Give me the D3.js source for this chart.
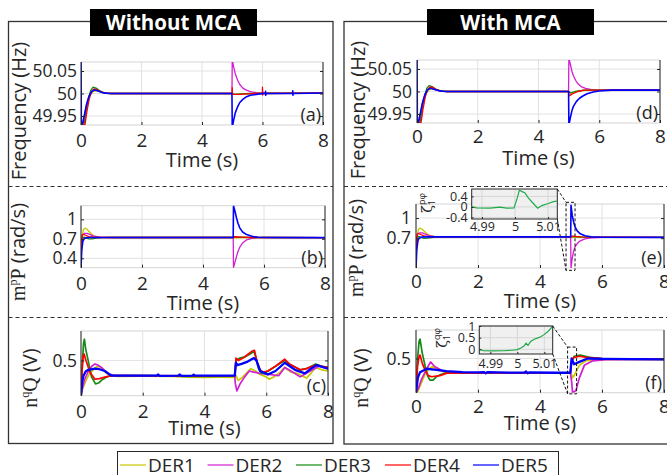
<!DOCTYPE html>
<html><head><meta charset="utf-8">
<script src="https://cdn.jsdelivr.net/npm/d3@7"></script>
<style>
body{margin:0;background:#fff}
svg{display:block}
text{font-family:"Open Sans",sans-serif;fill:#262626}
</style>
</head><body>
<svg id="c" width="667" height="475"></svg>
<script>
// ---------------- DATA ----------------
const seriesNames = ['DER1','DER2','DER3','DER4','DER5'];
const timeTicks = [0,2,4,6,8];
const freqTicks = [49.95,50,50.05];
const mpTicksB = [0.4,0.7,1];
const mpTicksE = [0.7,1];
const nqTicks = [0.5];
const insetTimeTicks = [4.99,5,5.01];
const insetTicksE = [-0.4,0,0.4];
const insetTicksF = [0,0.5,1];
const panelTags = ['(a)','(b)','(c)','(d)','(e)','(f)'];
const columnTitles = ['Without MCA','With MCA'];

// (a) Frequency without MCA
const freqNo_DER1 = [[0,49.93],[0.09,49.93],[0.15,49.955],[0.22,49.98],[0.3,49.996],[0.4,50.004],[0.5,50.006],[0.62,50.004],[0.8,50.001],[1,50],[5,50],[5.02,49.998],[5.3,49.999],[5.6,50],[6,50.001],[8,50.001]];
const freqNo_DER2 = [[0,49.93],[0.07,49.935],[0.14,49.96],[0.22,49.985],[0.3,50.0],[0.4,50.008],[0.5,50.008],[0.65,50.003],[0.85,50.001],[1,50],[4.99,50],[5,50.075],[5.05,50.058],[5.1,50.044],[5.18,50.029],[5.25,50.02],[5.35,50.012],[5.45,50.008],[5.6,50.004],[5.8,50.002],[5.995,50.001],[6,49.997],[6.01,50.004],[6.03,50.001],[8,50.001]];
const freqNo_DER3 = [[0,49.93],[0.1,49.932],[0.17,49.96],[0.25,49.99],[0.32,50.007],[0.4,50.014],[0.5,50.012],[0.6,50.007],[0.75,50.002],[1,50],[5,50],[5.05,49.998],[5.3,49.999],[5.6,50],[8,50.001]];
const freqNo_DER4 = [[0,49.93],[0.13,49.93],[0.2,49.962],[0.28,49.99],[0.35,50.004],[0.43,50.01],[0.52,50.009],[0.62,50.005],[0.8,50.001],[1,50],[4.995,50],[5,50.013],[5.005,50],[5.03,49.998],[5.25,49.998],[5.5,49.999],[5.8,50],[5.995,50],[6,50.014],[6.005,49.997],[6.03,50],[8,50.001]];
const freqNo_DER5 = [[0,50.075],[0.012,49.93],[0.06,49.935],[0.1,49.948],[0.18,49.975],[0.26,49.993],[0.35,50.004],[0.45,50.008],[0.55,50.006],[0.7,50.002],[0.9,50],[4.99,50],[5,49.925],[5.05,49.942],[5.1,49.957],[5.18,49.971],[5.25,49.98],[5.35,49.987],[5.45,49.992],[5.6,49.996],[5.8,49.998],[6,50],[6.095,50],[6.1,50.005],[6.105,49.996],[6.12,50],[6.995,50],[7,50.006],[7.005,49.996],[7.02,50],[8,50.001]];

// (d) Frequency with MCA
const freqMCA_DER1 = [[0,49.93],[0.09,49.93],[0.15,49.955],[0.22,49.98],[0.3,49.996],[0.4,50.004],[0.5,50.006],[0.62,50.004],[0.8,50.001],[1,50],[5,50],[5.05,49.995],[5.2,49.999],[5.4,50.002],[5.7,50.003],[8,50.003]];
const freqMCA_DER2 = [[0,49.93],[0.07,49.935],[0.14,49.96],[0.22,49.985],[0.3,50.0],[0.4,50.008],[0.5,50.008],[0.65,50.003],[0.85,50.001],[1,50],[4.99,50],[5,50.075],[5.05,50.06],[5.1,50.045],[5.15,50.035],[5.22,50.025],[5.3,50.017],[5.4,50.011],[5.55,50.007],[5.75,50.004],[6,50.003],[8,50.003]];
const freqMCA_DER3 = [[0,49.93],[0.1,49.932],[0.17,49.96],[0.25,49.99],[0.32,50.007],[0.4,50.013],[0.5,50.011],[0.6,50.006],[0.75,50.002],[1,50],[5,50],[5.05,49.997],[5.2,50],[5.5,50.003],[8,50.003]];
const freqMCA_DER4 = [[0,49.93],[0.13,49.93],[0.2,49.962],[0.28,49.99],[0.35,50.004],[0.43,50.01],[0.52,50.009],[0.62,50.005],[0.8,50.001],[1,50],[4.995,50],[5,49.99],[5.05,49.992],[5.15,49.996],[5.3,50.0],[5.5,50.003],[8,50.003]];
const freqMCA_DER5 = [[0,50.075],[0.012,49.93],[0.06,49.935],[0.1,49.948],[0.18,49.975],[0.26,49.993],[0.35,50.004],[0.45,50.007],[0.55,50.005],[0.7,50.002],[0.9,50],[4.99,50],[5,49.925],[5.05,49.942],[5.1,49.957],[5.15,49.967],[5.25,49.978],[5.35,49.985],[5.46,49.99],[5.6,49.995],[5.8,49.999],[6,50.001],[6.4,50.003],[8,50.003]];

// (b) m^pP without MCA
const mpNo_DER1 = [[0,0.255],[0.015,0.55],[0.04,0.75],[0.08,0.84],[0.13,0.865],[0.18,0.855],[0.25,0.82],[0.35,0.77],[0.45,0.74],[0.6,0.725],[1,0.72],[5,0.72],[5.05,0.714],[5.3,0.717],[6,0.72],[8,0.719]];
const mpNo_DER2 = [[0,0.255],[0.015,0.6],[0.05,0.76],[0.12,0.785],[0.2,0.785],[0.3,0.765],[0.42,0.74],[0.6,0.725],[1,0.72],[4.99,0.72],[5,0.255],[5.05,0.34],[5.1,0.43],[5.15,0.51],[5.21,0.575],[5.3,0.635],[5.43,0.685],[5.6,0.708],[5.8,0.717],[6.2,0.72],[8,0.718]];
const mpNo_DER3 = [[0,0.255],[0.015,0.58],[0.05,0.72],[0.1,0.725],[0.18,0.71],[0.26,0.698],[0.36,0.7],[0.5,0.71],[0.7,0.718],[1,0.72],[5,0.72],[5.05,0.726],[5.5,0.72],[8,0.718]];
const mpNo_DER4 = [[0,0.255],[0.015,0.65],[0.04,0.76],[0.08,0.77],[0.15,0.755],[0.25,0.735],[0.4,0.724],[0.6,0.72],[5,0.72],[5.02,0.732],[5.3,0.726],[5.6,0.72],[8,0.718]];
const mpNo_DER5 = [[0,0.255],[0.025,0.52],[0.06,0.66],[0.1,0.7],[0.16,0.715],[0.25,0.72],[4.99,0.72],[5,1.21],[5.05,1.12],[5.1,1.02],[5.15,0.935],[5.21,0.865],[5.3,0.805],[5.43,0.765],[5.6,0.738],[5.8,0.724],[6.2,0.72],[8,0.718]];

// (e) m^pP with MCA
const mpMCA_DER1 = [[0,0.255],[0.015,0.55],[0.04,0.75],[0.08,0.83],[0.12,0.85],[0.18,0.84],[0.25,0.81],[0.35,0.765],[0.45,0.74],[0.6,0.725],[1,0.72],[5,0.72],[5.05,0.712],[5.3,0.712],[8,0.712]];
const mpMCA_DER2 = [[0,0.255],[0.015,0.6],[0.05,0.76],[0.12,0.78],[0.2,0.78],[0.3,0.76],[0.42,0.738],[0.6,0.724],[1,0.72],[4.99,0.72],[5,0.255],[5.04,0.4],[5.08,0.5],[5.13,0.57],[5.2,0.62],[5.3,0.66],[5.45,0.69],[5.65,0.705],[6,0.712],[8,0.712]];
const mpMCA_DER3 = [[0,0.255],[0.015,0.58],[0.05,0.72],[0.1,0.725],[0.18,0.71],[0.26,0.698],[0.36,0.7],[0.5,0.71],[0.7,0.718],[1,0.72],[5,0.72],[5.05,0.726],[5.4,0.715],[8,0.712]];
const mpMCA_DER4 = [[0,0.255],[0.015,0.65],[0.04,0.76],[0.08,0.77],[0.15,0.755],[0.25,0.735],[0.4,0.724],[0.6,0.72],[5,0.72],[5.02,0.73],[5.3,0.718],[8,0.712]];
const mpMCA_DER5 = [[0,0.255],[0.025,0.52],[0.06,0.66],[0.1,0.7],[0.16,0.715],[0.25,0.72],[4.99,0.72],[5,1.19],[5.04,1.04],[5.08,0.95],[5.13,0.87],[5.2,0.81],[5.3,0.765],[5.45,0.735],[5.65,0.72],[6,0.714],[8,0.712]];

// (c) n^qQ without MCA
const nqNo_DER1 = [[0,0.2],[0.04,0.25],[0.1,0.29],[0.18,0.34],[0.28,0.39],[0.4,0.42],[0.5,0.445],[0.6,0.45],[0.7,0.43],[0.82,0.39],[0.95,0.37],[1.2,0.365],[2,0.366],[3,0.364],[3.5,0.358],[4,0.356],[4.5,0.357],[4.98,0.356],[5.02,0.372],[5.09,0.33],[5.2,0.35],[5.35,0.39],[5.5,0.43],[5.65,0.41],[5.8,0.38],[6.0,0.36],[6.1,0.34],[6.25,0.36],[6.45,0.4],[6.6,0.44],[6.8,0.4],[7.0,0.39],[7.15,0.37],[7.3,0.35],[7.45,0.39],[7.6,0.44],[7.8,0.42],[8,0.41]];
const nqNo_DER2 = [[0,0.2],[0.05,0.27],[0.12,0.34],[0.24,0.41],[0.35,0.45],[0.45,0.47],[0.55,0.46],[0.66,0.44],[0.78,0.41],[0.9,0.385],[1.1,0.37],[2,0.368],[3.5,0.366],[4.98,0.366],[5.0,0.3],[5.05,0.24],[5.15,0.3],[5.3,0.36],[5.45,0.41],[5.6,0.4],[5.8,0.39],[6.1,0.38],[6.4,0.37],[6.6,0.44],[6.8,0.41],[7.1,0.36],[7.3,0.39],[7.5,0.42],[7.7,0.45],[8,0.43]];
const nqNo_DER3 = [[0,0.2],[0.04,0.45],[0.08,0.64],[0.11,0.68],[0.15,0.6],[0.24,0.49],[0.34,0.36],[0.47,0.3],[0.58,0.31],[0.66,0.33],[0.8,0.355],[0.95,0.37],[2,0.37],[3.5,0.365],[4.98,0.366],[5.02,0.5],[5.15,0.52],[5.3,0.53],[5.45,0.55],[5.6,0.575],[5.68,0.51],[5.75,0.43],[5.85,0.39],[6.0,0.4],[6.3,0.45],[6.6,0.5],[6.8,0.46],[7.1,0.42],[7.3,0.43],[7.6,0.47],[7.8,0.45],[8,0.44]];
const nqNo_DER4 = [[0,0.2],[0.03,0.4],[0.07,0.53],[0.1,0.555],[0.16,0.5],[0.29,0.4],[0.45,0.34],[0.6,0.345],[0.8,0.36],[1,0.37],[2,0.37],[3.5,0.368],[4.98,0.37],[5.02,0.52],[5.1,0.5],[5.25,0.52],[5.4,0.55],[5.55,0.58],[5.62,0.585],[5.7,0.49],[5.8,0.42],[5.9,0.4],[6.05,0.41],[6.3,0.45],[6.6,0.51],[6.75,0.47],[7.1,0.42],[7.3,0.43],[7.6,0.46],[7.8,0.45],[8,0.44]];
const nqNo_DER5 = [[0,0.2],[0.04,0.32],[0.08,0.37],[0.15,0.405],[0.24,0.42],[0.45,0.43],[0.6,0.425],[0.77,0.41],[0.9,0.385],[1,0.37],[1.5,0.37],[2.45,0.37],[2.5,0.38],[2.55,0.368],[3.15,0.37],[3.2,0.38],[3.25,0.368],[3.6,0.37],[3.65,0.379],[3.7,0.37],[4.98,0.37],[5.02,0.48],[5.06,0.46],[5.2,0.47],[5.4,0.49],[5.6,0.52],[5.68,0.5],[5.8,0.41],[6.05,0.38],[6.3,0.41],[6.6,0.48],[6.93,0.42],[7.25,0.39],[7.45,0.43],[7.63,0.46],[8,0.43]];

// (f) n^qQ with MCA
const nqMCA_DER1 = [[0,0.2],[0.04,0.2],[0.18,0.29],[0.3,0.37],[0.39,0.4],[0.53,0.43],[0.71,0.4],[0.98,0.375],[2,0.373],[3,0.372],[4,0.372],[4.98,0.372],[5.02,0.36],[5.05,0.33],[5.1,0.35],[5.27,0.44],[5.48,0.48],[5.8,0.49],[6.5,0.492],[8,0.49]];
const nqMCA_DER2 = [[0,0.2],[0.08,0.24],[0.18,0.32],[0.35,0.41],[0.47,0.47],[0.6,0.43],[0.87,0.39],[1.1,0.376],[2,0.374],[4.98,0.374],[5.02,0.3],[5.05,0.2],[5.16,0.22],[5.27,0.33],[5.43,0.44],[5.7,0.48],[6.13,0.49],[8,0.492]];
const nqMCA_DER3 = [[0,0.2],[0.05,0.5],[0.1,0.65],[0.13,0.67],[0.2,0.55],[0.29,0.44],[0.37,0.35],[0.45,0.31],[0.55,0.31],[0.66,0.34],[0.8,0.36],[0.98,0.375],[2,0.375],[4.98,0.375],[5.02,0.47],[5.1,0.52],[5.3,0.53],[5.6,0.51],[6,0.5],[6.5,0.495],[8,0.495]];
const nqMCA_DER4 = [[0,0.2],[0.05,0.43],[0.1,0.52],[0.13,0.53],[0.2,0.46],[0.29,0.4],[0.4,0.35],[0.5,0.34],[0.77,0.35],[1,0.372],[2,0.373],[4.98,0.373],[5.02,0.48],[5.1,0.51],[5.27,0.52],[5.5,0.51],[6,0.5],[8,0.495]];
const nqMCA_DER5 = [[0,0.2],[0.06,0.33],[0.13,0.38],[0.35,0.41],[0.66,0.4],[0.98,0.39],[1.5,0.38],[2,0.378],[2.2,0.38],[2.25,0.37],[2.3,0.38],[3,0.376],[3.5,0.377],[3.55,0.386],[3.6,0.37],[3.65,0.378],[4.5,0.375],[4.98,0.375],[5.02,0.5],[5.1,0.45],[5.27,0.47],[5.54,0.5],[6,0.497],[7,0.495],[8,0.493]];

// insets (zeta_1 around t = 5 s)
const insetE_zeta = [[4.98706,0.0],[4.98839,-0.04],[4.99242,-0.05],[4.99545,-0.01],[4.99748,-0.05],[4.9997,-0.04],[5.0007,0.34],[5.0013,0.63],[5.00203,0.59],[5.00303,0.53],[5.00403,0.34],[5.00555,0.13],[5.00688,-0.05],[5.00809,0.05],[5.01009,0.13],[5.01161,0.2],[5.01264,0.22]];
const insetF_zeta = [[4.98619,0.0],[4.98741,-0.06],[4.99111,-0.07],[4.99481,-0.06],[4.99793,-0.04],[5.0,-0.01],[5.00126,0.06],[5.00248,0.14],[5.00322,0.26],[5.00396,0.17],[5.00496,0.34],[5.00619,0.43],[5.00741,0.48],[5.00867,0.54],[5.00989,0.63],[5.01111,0.74],[5.01211,0.86],[5.01296,0.97]];
// zoom-window markers [t0, t1, v0, v1]
const markerE = [4.84,5.13,0.22,1.235];
const markerF = [4.89,5.18,0.19,0.6];

// ---------------- DRAWING ----------------
const colors = ['#c8c800','#d21fd2','#138a13','#ff0000','#0000ff'];
const svg = d3.select('#c');
let clipId = 0;

function axisLabel(g, x, y, parts){
  const t = g.append('text').attr('transform',`translate(${x},${y}) rotate(-90)`)
    .attr('text-anchor','middle').attr('font-size',20);
  let shift = 0;
  parts.forEach(p=>{
    const s = t.append('tspan').text(p.t);
    if(p.serif) s.style('font-family','"Liberation Serif",serif');
    if(p.sup){ s.attr('font-size',12).attr('dy',-8); shift = 8; }
    else if(shift){ s.attr('dy',shift); shift = 0; }
  });
}

function panel(o){
  const x = d3.scaleLinear().domain([0,8]).range([o.x0,o.x1]);
  const y = d3.scaleLinear().domain(o.yDom).range([o.y1,o.y0]);
  const g = svg.append('g');
  g.selectAll('.gx').data(timeTicks).join('line')
    .attr('x1',d=>x(d)).attr('x2',d=>x(d)).attr('y1',o.y0).attr('y2',o.y1)
    .attr('stroke','#e2e2e2').attr('stroke-width',1);
  g.selectAll('.gy').data(o.yTicks).join('line')
    .attr('x1',o.x0).attr('x2',o.x1).attr('y1',d=>y(d)).attr('y2',d=>y(d))
    .attr('stroke','#e2e2e2').attr('stroke-width',1);
  [o.y0,o.y1].forEach(v=>g.append('line').attr('x1',o.x0).attr('x2',o.x1).attr('y1',v).attr('y2',v)
    .attr('stroke','#d4d4d4').attr('stroke-width',1));
  const id = 'clip'+(clipId++);
  svg.append('defs').append('clipPath').attr('id',id).append('rect')
    .attr('x',o.x0).attr('y',o.y0).attr('width',o.x1-o.x0).attr('height',o.y1-o.y0);
  const line = d3.line().x(d=>x(d[0])).y(d=>y(d[1]));
  g.append('g').attr('clip-path',`url(#${id})`).selectAll('path').data(o.series).join('path')
    .attr('d',line).attr('fill','none').attr('stroke',(d,i)=>colors[i])
    .attr('stroke-width',(d,i)=>o.thick ? (i===4?2.3:1.7) : (i===4?1.6:1.3))
    .attr('stroke-linejoin','round');
  const ax = g.append('g').attr('transform',`translate(0,${o.y1})`)
    .call(d3.axisBottom(x).tickValues(timeTicks).tickSizeInner(-3).tickSizeOuter(0).tickPadding(o.xPad).tickFormat(d3.format('d')));
  ax.select('.domain').remove();
  ax.attr('font-size',19).attr('font-family','"Open Sans",sans-serif').attr('color','#262626');
  const ay = g.append('g').attr('transform',`translate(${o.x0},0)`)
    .call(d3.axisLeft(y).tickValues(o.yTicks).tickSizeInner(-3).tickSizeOuter(0).tickPadding(o.yPad).tickFormat(d=>String(+d.toFixed(3))));
  ay.select('.domain').remove();
  ay.attr('font-size',17.5).attr('font-family','"Open Sans",sans-serif').attr('color','#262626');
  const ar = g.append('g').attr('transform',`translate(${o.x1},0)`)
    .call(d3.axisRight(y).tickValues(o.yTicks).tickSizeInner(-3).tickSizeOuter(0).tickFormat(''));
  ar.select('.domain').remove();
  ar.attr('color','#262626');
  [o.x0,o.x1].forEach(v=>g.append('line').attr('x1',v).attr('x2',v).attr('y1',o.y0).attr('y2',o.y1)
    .attr('stroke','#262626').attr('stroke-width',1));
  g.append('text').attr('x',(o.x0+o.x1)/2).attr('y',o.y1+o.timeDy).attr('text-anchor','middle')
    .attr('font-size',20).text('Time (s)');
  g.append('text').attr('x',o.x1-2).attr('y',o.y1-4).attr('text-anchor','end')
    .attr('font-size',18).text(o.tag);
  axisLabel(g,o.lx,o.ly,o.label);
  return {x,y};
}

function inset(o){
  const x = d3.scaleLinear().domain(o.xDom).range([o.x0,o.x1]);
  const y = d3.scaleLinear().domain(o.yDom).range([o.y1,o.y0]);
  const g = svg.append('g');
  g.append('rect').attr('x',o.x0).attr('y',o.y0).attr('width',o.x1-o.x0).attr('height',o.y1-o.y0)
    .attr('fill','#f0f0f0');
  g.selectAll('.gx').data(insetTimeTicks).join('line')
    .attr('x1',d=>x(d)).attr('x2',d=>x(d)).attr('y1',o.y0).attr('y2',o.y1).attr('stroke','#d6d6d6');
  g.selectAll('.gy').data(o.yTicks).join('line')
    .attr('x1',o.x0).attr('x2',o.x1).attr('y1',d=>y(d)).attr('y2',d=>y(d)).attr('stroke','#d6d6d6');
  const id = 'clip'+(clipId++);
  svg.append('defs').append('clipPath').attr('id',id).append('rect')
    .attr('x',o.x0).attr('y',o.y0).attr('width',o.x1-o.x0).attr('height',o.y1-o.y0);
  g.append('path').datum(o.data).attr('clip-path',`url(#${id})`)
    .attr('d',d3.line().x(d=>x(d[0])).y(d=>y(d[1])))
    .attr('fill','none').attr('stroke','#1fab48').attr('stroke-width',1.2);
  const ax = g.append('g').attr('transform',`translate(0,${o.y1})`)
    .call(d3.axisBottom(x).tickValues(insetTimeTicks).tickSizeInner(-2).tickSizeOuter(0).tickPadding(o.xPad).tickFormat(d=>String(+d.toFixed(2))));
  ax.select('.domain').remove();
  ax.attr('font-size',12.5).attr('font-family','"Open Sans",sans-serif').attr('color','#262626');
  const ay = g.append('g').attr('transform',`translate(${o.x0},0)`)
    .call(d3.axisLeft(y).tickValues(o.yTicks).tickSizeInner(-2).tickSizeOuter(0).tickPadding(4).tickFormat(d=>String(+d.toFixed(2))));
  ay.select('.domain').remove();
  ay.attr('font-size',12.5).attr('font-family','"Open Sans",sans-serif').attr('color','#262626');
  g.append('rect').attr('x',o.x0).attr('y',o.y0).attr('width',o.x1-o.x0).attr('height',o.y1-o.y0)
    .attr('fill','none').attr('stroke','#262626').attr('stroke-width',1);
  const t = g.append('text').attr('transform',`translate(${o.lx},${o.ly}) rotate(-90)`)
    .attr('text-anchor','middle').attr('font-size',14);
  t.append('tspan').text('ζ').style('font-family','"DejaVu Serif",serif');
  t.append('tspan').text('1').attr('font-size',9).attr('dy',3);
  t.append('tspan').text(o.sup).attr('font-size',9).attr('dx',-5).attr('dy',-10);
  return {x,y};
}

function marker(sc, m, box){
  const g = svg.append('g').attr('fill','none').attr('stroke','#111').attr('stroke-width',1).attr('stroke-dasharray','3,2');
  const rx0 = sc.x(m[0]), rx1 = sc.x(m[1]), ry0 = sc.y(m[3]), ry1 = sc.y(m[2]);
  g.append('rect').attr('x',rx0).attr('y',ry0).attr('width',rx1-rx0).attr('height',ry1-ry0);
  g.append('line').attr('x1',box.x1).attr('y1',box.y0).attr('x2',rx0).attr('y2',ry0);
  g.append('line').attr('x1',box.x1).attr('y1',box.y1).attr('x2',rx0).attr('y2',ry1);
}

svg.append('rect').attr('x',8.5).attr('y',21.5).attr('width',324.5).attr('height',422)
  .attr('fill','none').attr('stroke','#333').attr('stroke-width',1.3);
svg.append('rect').attr('x',344).attr('y',21.5).attr('width',400).attr('height',422.5)
  .attr('fill','none').attr('stroke','#333').attr('stroke-width',1.3);
[[8.5,333,186.5],[8.5,333,317.5],[344,667,186.5],[344,667,317.5]].forEach(d=>
  svg.append('line').attr('x1',d[0]).attr('x2',d[1]).attr('y1',d[2]).attr('y2',d[2])
    .attr('stroke','#333').attr('stroke-width',1).attr('stroke-dasharray','4,3'));

[[90,9,167,27,0],[427,9,167,26,1]].forEach(d=>{
  svg.append('rect').attr('x',d[0]).attr('y',d[1]).attr('width',d[2]).attr('height',d[3]).attr('fill','#000');
  svg.append('text').attr('x',d[0]+d[2]/2).attr('y',d[1]+21).attr('text-anchor','middle')
    .attr('font-size',20.5).attr('font-weight',700).style('fill','#fff').text(columnTitles[d[4]]);
});

const lblFreq = [{t:'Frequency (Hz)'}];
const lblMP = [{t:'m',serif:1},{t:'p',serif:1,sup:1},{t:'P',serif:1},{t:' (rad/s)'}];
const lblNQ = [{t:'n',serif:1},{t:'q',serif:1,sup:1},{t:'Q',serif:1},{t:' (V)'}];

panel({x0:81,x1:323,y0:62,y1:125,yDom:[49.93,50.07],yTicks:freqTicks,series:[freqNo_DER1,freqNo_DER2,freqNo_DER3,freqNo_DER4,freqNo_DER5],
  xPad:8.5,yPad:4,timeDy:42,tag:panelTags[0],lx:26,ly:111,label:lblFreq});
panel({x0:81,x1:325,y0:205.7,y1:267.7,yDom:[0.255,1.21],yTicks:mpTicksB,series:[mpNo_DER1,mpNo_DER2,mpNo_DER3,mpNo_DER4,mpNo_DER5],
  xPad:8.5,yPad:4,timeDy:42,tag:panelTags[1],lx:25,ly:252,label:lblMP});
panel({x0:81,x1:328,y0:331,y1:395.7,yDom:[0.2,0.75],yTicks:nqTicks,series:[nqNo_DER1,nqNo_DER2,nqNo_DER3,nqNo_DER4,nqNo_DER5],thick:1,
  xPad:8.5,yPad:4,timeDy:39,tag:panelTags[2],lx:37,ly:378,label:lblNQ});
panel({x0:417,x1:660,y0:60,y1:123,yDom:[49.93,50.07],yTicks:freqTicks,series:[freqMCA_DER1,freqMCA_DER2,freqMCA_DER3,freqMCA_DER4,freqMCA_DER5],
  xPad:6.5,yPad:5,timeDy:42,tag:panelTags[3],lx:365,ly:110,label:lblFreq});
const scE = panel({x0:416,x1:664,y0:204,y1:268,yDom:[0.255,1.21],yTicks:mpTicksE,series:[mpMCA_DER1,mpMCA_DER2,mpMCA_DER3,mpMCA_DER4,mpMCA_DER5],
  xPad:6.5,yPad:5,timeDy:40,tag:panelTags[4],lx:363,ly:248,label:lblMP});
const scF = panel({x0:416,x1:664,y0:330,y1:392.7,yDom:[0.2,0.75],yTicks:nqTicks,series:[nqMCA_DER1,nqMCA_DER2,nqMCA_DER3,nqMCA_DER4,nqMCA_DER5],thick:1,
  xPad:6.5,yPad:5,timeDy:37,tag:panelTags[5],lx:368,ly:378,label:lblNQ});

const boxE = {x0:471.7,x1:557.3,y0:189,y1:219};
const boxF = {x0:479.3,x1:552.7,y0:326,y1:354};
inset({...boxE,xDom:[4.9869,5.0128],yDom:[-0.46,0.68],yTicks:insetTicksE,data:insetE_zeta,xPad:3,lx:432,ly:203,sup:'pφ'});
inset({...boxF,xDom:[4.9859,5.0131],yDom:[-0.2,1],yTicks:insetTicksF,data:insetF_zeta,xPad:5,lx:447,ly:338,sup:'qφ'});
marker(scE, markerE, boxE);
marker(scF, markerF, boxF);

svg.append('rect').attr('x',117.5).attr('y',451.5).attr('width',441).attr('height',40)
  .attr('fill','#fff').attr('stroke','#262626').attr('stroke-width',1);
const legX = [120,207.5,296,385,473];
seriesNames.forEach((n,i)=>{
  svg.append('line').attr('x1',legX[i]).attr('x2',legX[i]+26).attr('y1',465).attr('y2',465)
    .attr('stroke',colors[i]).attr('stroke-width',1.2);
  svg.append('text').attr('x',legX[i]+28).attr('y',472).attr('font-size',19).text(n);
});
</script>
</body></html>
